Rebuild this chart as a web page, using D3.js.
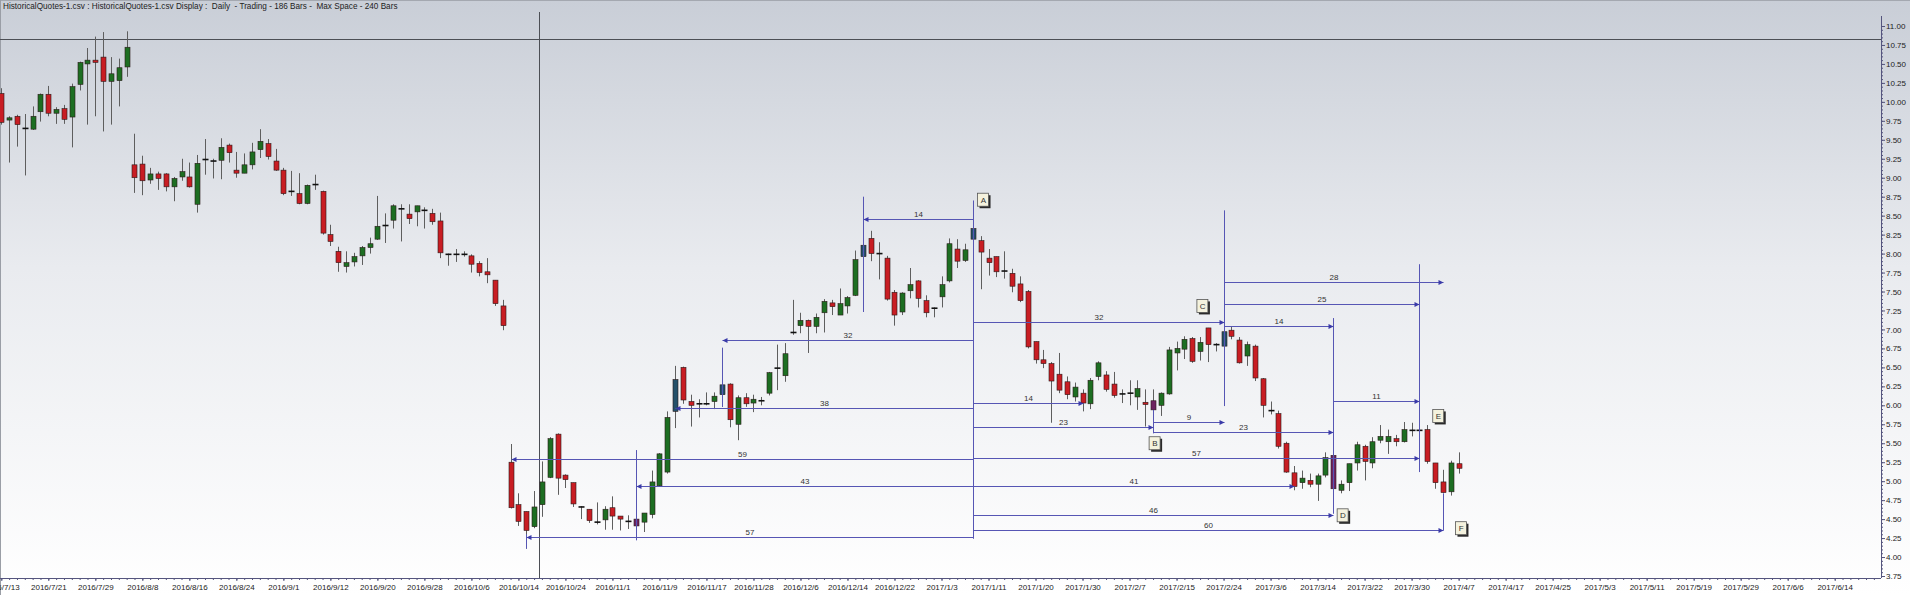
<!DOCTYPE html>
<html><head><meta charset="utf-8">
<script src="https://cdn.jsdelivr.net/npm/d3@7"></script>
<style>html,body{margin:0;padding:0;overflow:hidden;background:#fff}svg{display:block}</style>
</head><body><svg id="c" width="1910" height="595"></svg>
<script>
// ---------------- data ----------------
const titleText = "HistoricalQuotes-1.csv : HistoricalQuotes-1.csv Display :  Daily  - Trading - 186 Bars -  Max Space - 240 Bars";
const maxBars = 240;
const openP = [10.11,9.76,9.81,9.65,9.64,9.87,10.10,9.85,9.91,9.80,10.23,10.50,10.55,10.59,10.27,10.28,10.46,
 9.17,9.18,8.97,9.05,9.05,8.88,9.01,9.01,8.65,9.24,9.22,9.23,9.43,9.10,9.06,9.17,9.37,9.45,9.22,9.10,8.82,8.79,8.66,8.91,
 8.82,8.25,8.03,7.83,7.89,7.97,8.08,8.19,8.37,8.44,8.59,8.52,8.55,8.57,8.53,8.43,7.99,7.99,7.99,7.97,7.87,7.76,7.65,7.31,
 5.25,4.69,4.60,4.40,4.69,5.05,5.62,5.08,4.98,4.66,4.63,4.46,4.49,4.65,4.54,4.47,4.50,4.46,4.56,4.94,5.12,5.92,
 6.50,6.05,6.02,6.02,6.05,6.14,6.28,5.75,6.10,6.03,6.06,6.16,6.49,6.39,6.96,7.05,7.12,7.04,7.22,7.35,7.19,7.31,7.45,7.96,
 8.20,8.00,7.94,7.49,7.23,7.51,7.64,7.38,7.28,7.43,7.64,8.06,7.91,8.19,
 8.17,7.94,7.96,7.77,7.74,7.60,7.50,6.84,6.60,6.55,6.41,6.31,6.11,6.16,6.02,6.38,6.40,6.28,6.15,6.16,6.11,6.04,6.06,6.00,
 6.15,6.69,6.74,6.88,6.71,7.02,6.80,6.78,6.99,6.86,6.65,6.78,6.35,5.93,5.89,5.50,5.11,4.98,5.01,4.96,5.08,5.34,4.88,4.98,
 5.24,5.46,5.24,5.54,5.52,5.56,5.52,5.67,5.67,5.68,5.24,4.99,4.86,5.23];
const highP = [10.18,9.81,9.83,9.84,9.94,10.11,10.21,9.93,9.96,10.24,10.53,10.71,10.86,10.92,10.59,10.57,10.93,
 9.58,9.29,9.13,9.08,9.06,9.01,9.25,9.20,9.30,9.51,9.25,9.52,9.45,9.34,9.32,9.46,9.64,9.51,9.38,9.13,9.09,9.06,8.91,9.04,
 8.83,8.38,8.09,8.03,8.01,8.10,8.21,8.76,8.53,8.65,8.65,8.65,8.63,8.61,8.59,8.54,8.00,8.06,8.03,7.99,7.90,7.94,7.65,7.39,
 5.49,4.84,4.60,4.87,5.26,5.58,5.63,5.09,4.98,4.67,4.63,4.72,4.67,4.80,4.54,4.55,4.55,4.58,5.14,5.37,5.92,6.52,
 6.51,6.14,6.08,6.17,6.17,6.35,6.29,6.13,6.16,6.14,6.11,6.44,6.80,6.82,7.39,7.22,7.13,7.21,7.40,7.39,7.54,7.44,8.04,8.15,
 8.30,8.15,7.97,7.52,7.49,7.81,7.65,7.45,7.29,7.70,8.20,8.19,8.13,8.35,
 8.23,8.06,7.96,8.03,7.80,7.70,7.52,6.84,6.73,6.57,6.69,6.38,6.30,6.21,6.36,6.58,6.45,6.44,6.21,6.33,6.33,6.21,6.21,6.17,
 6.77,6.84,6.91,6.90,6.90,7.02,6.82,6.98,7.04,6.90,6.84,6.80,6.36,6.05,5.93,5.52,5.20,5.14,5.10,5.10,5.38,5.35,5.01,5.23,
 5.52,5.48,5.58,5.74,5.68,5.61,5.78,5.77,5.69,5.74,5.24,5.15,5.27,5.38];
const lowP = [9.70,9.20,9.41,9.03,9.63,9.74,9.81,9.71,9.71,9.40,10.15,9.70,9.81,9.61,9.70,9.94,10.33,
 8.80,8.77,8.92,8.84,8.82,8.69,8.96,8.87,8.54,9.04,8.99,8.98,9.20,9.00,9.06,9.11,9.26,9.24,9.09,8.77,8.76,8.65,8.65,8.84,
 8.25,8.10,7.76,7.75,7.83,7.85,8.00,8.18,8.14,8.33,8.16,8.39,8.36,8.33,8.38,7.94,7.84,7.89,7.96,7.75,7.70,7.61,7.31,6.99,
 4.64,4.41,4.11,4.38,4.53,5.04,4.82,4.91,4.66,4.50,4.45,4.43,4.36,4.36,4.35,4.37,4.36,4.33,4.51,4.93,5.10,5.70,
 6.02,5.72,5.84,6.00,5.95,5.98,5.71,5.54,5.98,5.91,6.00,6.13,6.20,6.31,6.93,6.95,6.69,6.95,6.96,7.19,7.19,7.21,7.44,7.94,
 7.90,7.66,7.38,7.05,7.19,7.41,7.29,7.16,7.16,7.29,7.62,7.81,7.89,8.18,
 7.53,7.71,7.69,7.67,7.49,7.36,6.75,6.55,6.49,5.77,6.16,6.08,6.05,5.92,5.95,6.33,6.18,6.10,6.03,6.00,5.94,5.72,5.72,5.86,
 6.14,6.46,6.61,6.56,6.59,6.57,6.71,6.77,6.87,6.55,6.52,6.32,5.84,5.88,5.43,5.11,4.88,4.90,4.92,4.74,5.05,4.88,4.84,4.87,
 5.14,5.01,5.17,5.50,5.36,5.46,5.51,5.59,5.65,5.23,4.90,4.85,4.81,5.10];
const closeP = [9.73,9.79,9.70,9.65,9.81,10.10,9.85,9.90,9.77,10.20,10.52,10.55,10.52,10.27,10.37,10.45,10.72,
 9.00,8.96,9.05,8.99,8.88,8.99,9.08,8.88,9.19,9.24,9.21,9.40,9.33,9.06,9.17,9.34,9.48,9.28,9.10,8.79,8.82,8.66,8.90,8.91,
 8.27,8.16,7.88,7.88,7.96,8.08,8.13,8.36,8.37,8.63,8.59,8.46,8.63,8.57,8.42,8.01,7.99,7.99,7.99,7.86,7.75,7.72,7.34,7.05,
 4.65,4.47,4.35,4.66,4.99,5.56,5.04,5.02,4.70,4.66,4.48,4.46,4.63,4.54,4.50,4.47,4.41,4.58,4.99,5.36,5.84,6.34,
 6.07,6.00,6.02,6.02,6.12,6.27,5.81,6.10,6.02,6.08,6.06,6.43,6.49,6.68,6.96,7.12,7.04,7.16,7.37,7.30,7.34,7.42,7.92,8.11,
 8.00,8.00,7.40,7.19,7.48,7.59,7.41,7.22,7.28,7.59,8.13,7.90,8.05,8.33,
 8.02,7.88,7.76,7.77,7.57,7.38,6.77,6.60,6.55,6.32,6.20,6.14,6.24,6.03,6.33,6.56,6.21,6.13,6.15,6.16,6.22,6.01,5.94,6.16,
 6.73,6.75,6.87,6.58,6.83,6.80,6.80,6.97,6.91,6.56,6.80,6.36,6.00,5.93,5.46,5.12,4.93,5.04,4.96,5.07,5.31,4.90,4.96,5.23,
 5.48,5.26,5.52,5.59,5.59,5.52,5.68,5.67,5.67,5.26,4.98,4.85,5.24,5.17];
const highBars = [86, 92, 110, 124, 156];   // swing-high bars drawn in teal
const lowBars  = [81, 147, 170];            // swing-low bars drawn in purple
const dateLabels = ["2016/7/13","2016/7/21","2016/7/29","2016/8/8","2016/8/16","2016/8/24","2016/9/1","2016/9/12",
 "2016/9/20","2016/9/28","2016/10/6","2016/10/14","2016/10/24","2016/11/1","2016/11/9","2016/11/17","2016/11/28",
 "2016/12/6","2016/12/14","2016/12/22","2017/1/3","2017/1/11","2017/1/20","2017/1/30","2017/2/7","2017/2/15",
 "2017/2/24","2017/3/6","2017/3/14","2017/3/22","2017/3/30","2017/4/7","2017/4/17","2017/4/25","2017/5/3",
 "2017/5/11","2017/5/19","2017/5/29","2017/6/6","2017/6/14"];
const labelEvery = 6;
const priceMin = 3.75, priceMax = 11.00, priceStep = 0.25;
// crosshair (bar position, price)
const crossBar = 68.6, crossPrice = 10.83;
// time-count arrows: from pivot bar -> to pivot bar at a price level
const arrowFrom = [124,124,124,124,124,124,124,124,124,124,124,124,124,147,147,156,156,156,170];
const arrowTo   = [110, 92, 86, 65, 81, 67,138,147,181,165,170,184,156,156,170,184,181,170,181];
const arrowAt   = [8.45,6.86,5.96,5.29,4.93,4.26,6.03,5.72,5.31,4.94,4.56,4.35,7.10,5.78,5.65,7.63,7.34,7.05,6.06];
// vertical pivot lines
const pivotBar = [110, 124, 92, 81, 67, 156, 170, 181, 184, 147];
const pivotTop = [8.75,8.70,6.76,5.41,4.30,8.57,7.15,7.86,4.84,5.94];
const pivotBot = [7.23,4.24,5.98,4.22,4.11,5.99,4.57,5.12,4.35,5.63];
// lettered pivot notes
const noteText  = ["A","B","C","D","E","F"];
const noteBar   = [125.3,147.2,153.3,171.2,183.4,186.3];
const notePrice = [8.71,5.50,7.31,4.55,5.86,4.38];

// ---------------- drawing ----------------
const W = 1910, H = 595;
const axisX = 1881, axisY = 578;
const svg = d3.select('#c');
const FONT = "'Liberation Sans', Arial, sans-serif";
const defs = svg.append('defs');
const g0 = defs.append('linearGradient').attr('id','bg').attr('x1',0).attr('y1',0).attr('x2',0).attr('y2',1);
g0.append('stop').attr('offset','0%').attr('stop-color','#c9ced7');
g0.append('stop').attr('offset','45%').attr('stop-color','#e9ebef');
g0.append('stop').attr('offset','100%').attr('stop-color','#ffffff');
svg.append('rect').attr('width',W).attr('height',H).attr('fill','url(#bg)');
svg.append('line').attr('x1',0).attr('x2',W).attr('y1',0.5).attr('y2',0.5).attr('stroke','#a4a8b0');
svg.append('line').attr('x1',0.5).attr('x2',0.5).attr('y1',0).attr('y2',H).attr('stroke','#9a9ea6');

const x = d3.scaleLinear().domain([0, maxBars]).range([1.3, 1.3 + maxBars * 7.835]);
const y = d3.scaleLinear().domain([priceMin, priceMax]).range([576, 26]);

svg.append('text').attr('x',3).attr('y',9).attr('font-family',FONT).attr('font-size',8.2)
  .attr('fill','#222').style('white-space','pre').text(titleText);

// crosshair
svg.append('line').attr('x1',0).attr('x2',axisX).attr('y1',Math.round(y(crossPrice))+0.5).attr('y2',Math.round(y(crossPrice))+0.5)
  .attr('stroke','#4c4f55').attr('stroke-width',1);
svg.append('line').attr('x1',Math.round(x(crossBar))+0.5).attr('x2',Math.round(x(crossBar))+0.5).attr('y1',12).attr('y2',axisY)
  .attr('stroke','#4c4f55').attr('stroke-width',1);

// candles
const bars = d3.range(openP.length).map(i => ({i, o:openP[i], h:highP[i], l:lowP[i], c:closeP[i]}));
const cg = svg.append('g');
const colorOf = d => highBars.includes(d.i) ? '#24506a' : lowBars.includes(d.i) ? '#6e2460' : (d.c >= d.o ? '#1d6e22' : '#c81d23');
cg.selectAll('line.w').data(bars).join('line').attr('class','w')
  .attr('x1',d=>Math.round(x(d.i))+0.5).attr('x2',d=>Math.round(x(d.i))+0.5)
  .attr('y1',d=>y(d.h)).attr('y2',d=>y(d.l)).attr('stroke','#5e5e5e').attr('stroke-width',1);
cg.selectAll('rect.b').data(bars.filter(d=>Math.abs(d.o-d.c)>=0.025)).join('rect').attr('class','b')
  .attr('x',d=>Math.round(x(d.i))-2).attr('width',5)
  .attr('y',d=>y(Math.max(d.o,d.c))).attr('height',d=>Math.max(1,y(Math.min(d.o,d.c))-y(Math.max(d.o,d.c))))
  .attr('fill',colorOf).attr('stroke','#2a1a1a').attr('stroke-width',0.6);
cg.selectAll('line.dj').data(bars.filter(d=>Math.abs(d.o-d.c)<0.025)).join('line').attr('class','dj')
  .attr('x1',d=>Math.round(x(d.i))-2.5).attr('x2',d=>Math.round(x(d.i))+3.5)
  .attr('y1',d=>y(d.o)).attr('y2',d=>y(d.o)).attr('stroke','#111').attr('stroke-width',1.6);

// annotations
const AC = '#5656b4';
const ag = svg.append('g');
pivotBar.forEach((b,k)=>{
  const xx = Math.round(x(b))+0.5;
  ag.append('line').attr('x1',xx).attr('x2',xx).attr('y1',y(pivotTop[k])).attr('y2',y(pivotBot[k]))
    .attr('stroke',AC).attr('stroke-width',1);
});
arrowFrom.forEach((f,k)=>{
  const t = arrowTo[k];
  const x1 = Math.round(x(f))+0.5, x2 = Math.round(x(t))+0.5, yy = Math.round(y(arrowAt[k]))+0.5;
  const dir = Math.sign(x2-x1);
  ag.append('line').attr('x1',x1).attr('x2',x2).attr('y1',yy).attr('y2',yy).attr('stroke',AC).attr('stroke-width',1);
  ag.append('path').attr('d',`M${x2},${yy}L${x2-dir*5},${yy-2.5}L${x2-dir*5},${yy+2.5}Z`).attr('fill','#3a3aa8');
  ag.append('text').attr('x',(x1+x2)/2).attr('y',yy-3).attr('text-anchor','middle')
    .attr('font-family',FONT).attr('font-size',8).attr('fill','#333').text(Math.abs(t-f));
});
noteText.forEach((s,k)=>{
  const cx = x(noteBar[k]), cy = y(notePrice[k]);
  ag.append('rect').attr('x',cx-5.5+2).attr('y',cy-6.5+2).attr('width',11).attr('height',13).attr('fill','#2a2a2a');
  ag.append('rect').attr('x',cx-5.5).attr('y',cy-6.5).attr('width',11).attr('height',13)
    .attr('fill','#f4f2de').attr('stroke','#555').attr('stroke-width',0.8);
  ag.append('text').attr('x',cx+0.3).attr('y',cy+3).attr('text-anchor','middle')
    .attr('font-family',FONT).attr('font-size',8).attr('fill','#333').text(s);
});

// y axis
const AX = '#55557e';
const yMinor = svg.append('g').attr('transform',`translate(${axisX},0)`)
  .call(d3.axisRight(y).tickValues(d3.range(priceMin, priceMax+0.001, 0.05)).tickSize(2).tickFormat(''));
const yMajor = svg.append('g').attr('transform',`translate(${axisX},0)`)
  .call(d3.axisRight(y).tickValues(d3.range(priceMin, priceMax+0.001, priceStep)).tickSize(4).tickPadding(1).tickFormat(d3.format('.2f')));
[yMinor,yMajor].forEach(g=>{g.select('.domain').remove(); g.selectAll('line').attr('stroke',AX);});
yMajor.selectAll('text').attr('font-family',FONT).attr('font-size',8).attr('fill','#222');
svg.append('line').attr('x1',axisX+0.5).attr('x2',axisX+0.5).attr('y1',16).attr('y2',axisY).attr('stroke',AX);

// x axis
const xMinor = svg.append('g').attr('transform',`translate(0,${axisY})`)
  .call(d3.axisBottom(x).tickValues(d3.range(0, maxBars, 1)).tickSize(2).tickFormat(''));
const xMajor = svg.append('g').attr('transform',`translate(0,${axisY})`)
  .call(d3.axisBottom(x).tickValues(d3.range(0, dateLabels.length*labelEvery, labelEvery)).tickSize(3).tickPadding(3)
  .tickFormat((d)=>dateLabels[d/labelEvery]));
[xMinor,xMajor].forEach(g=>{g.select('.domain').remove(); g.selectAll('line').attr('stroke',AX);});
xMajor.selectAll('text').attr('font-family',FONT).attr('font-size',8).attr('fill','#222');
svg.append('line').attr('x1',0).attr('x2',axisX).attr('y1',axisY+0.5).attr('y2',axisY+0.5).attr('stroke',AX);
</script></body></html>
